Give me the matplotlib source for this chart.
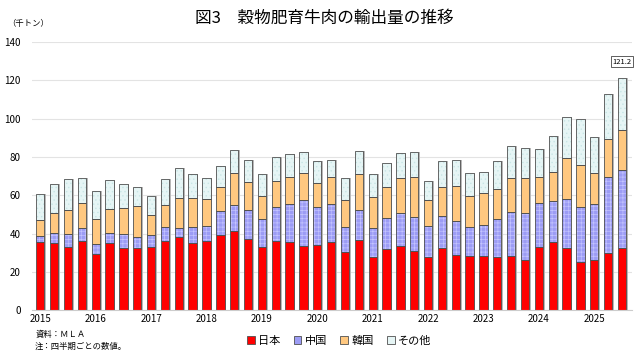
import matplotlib
matplotlib.use("Agg")
import matplotlib.pyplot as plt
import numpy as np

plt.rcParams['font.family'] = ['Noto Sans CJK JP', 'DejaVu Sans']
plt.rcParams['hatch.linewidth'] = 0.5

# 四半期ごとの数値（2015年1-3月期〜2025年7-9月期）
years = ['2015', '2016', '2017', '2018', '2019', '2020',
         '2021', '2022', '2023', '2024', '2025']

# 累積の上端を読み取り
top_japan = [35.5, 34.8, 32.9, 36.1, 29.2, 35.0, 32.4, 32.6, 33.1, 36.1, 38.0,
             35.0, 36.1, 39.0, 41.3, 37.3, 32.9, 36.1, 35.4, 33.6, 34.1, 35.7,
             30.5, 36.6, 27.8, 32.0, 33.6, 31.0, 27.8, 32.6, 28.9, 28.2, 28.5,
             27.5, 28.4, 26.4, 33.1, 35.5, 32.6, 25.2, 26.3, 29.9, 32.2]
top_china = [38.5, 40.1, 39.7, 43.1, 34.5, 40.3, 39.7, 38.2, 39.2, 43.4, 42.7,
             43.2, 44.1, 51.8, 55.0, 52.3, 47.6, 53.9, 55.5, 57.6, 53.9, 55.3,
             43.2, 52.3, 43.1, 48.0, 50.9, 48.7, 43.9, 49.2, 46.6, 43.4, 44.5,
             47.6, 51.5, 50.8, 55.8, 57.2, 57.8, 53.9, 55.5, 69.3, 73.0]
top_korea = [47.1, 50.6, 52.3, 56.0, 47.6, 53.0, 53.4, 54.4, 49.9, 55.0, 58.6,
             58.6, 58.1, 64.4, 71.8, 66.7, 59.7, 67.7, 69.5, 71.8, 66.5, 69.7,
             57.6, 71.2, 59.2, 64.4, 69.1, 69.7, 57.6, 64.4, 64.9, 59.7, 61.3,
             63.5, 69.1, 68.8, 69.7, 72.3, 79.3, 75.6, 71.6, 89.3, 94.0]
total = [60.7, 66.0, 68.3, 69.1, 62.3, 68.1, 66.0, 64.4, 59.7, 68.3, 74.0,
         71.2, 69.1, 75.3, 83.5, 78.6, 70.9, 79.8, 81.6, 82.8, 78.0, 78.2,
         68.8, 83.2, 71.2, 77.0, 82.1, 82.6, 67.7, 78.1, 78.6, 71.8, 72.3,
         77.7, 85.6, 84.7, 84.4, 91.0, 100.8, 99.7, 90.3, 112.8, 121.2]

japan = np.array(top_japan)
china = np.array(top_china) - japan
korea = np.array(top_korea) - np.array(top_china)
other = np.array(total) - np.array(top_korea)

x = np.arange(len(total))
w = 0.6
ec = '#505050'

fig = plt.figure(figsize=(6.4, 3.58), dpi=100)
ax = fig.add_axes([0.05, 0.134, 0.937, 0.748])

# 影
ax.bar(x + 0.12, total, w, color='#b8b8b8', zorder=1, linewidth=0)

ax.bar(x, japan, w, color='#ff0000', edgecolor=ec, linewidth=0.6, zorder=2)

# 中国（ドット模様は薄い色で）
ax.bar(x, china, w, bottom=japan, color='#9c9cf5', edgecolor='#c4c4ff',
       linewidth=0, hatch='++++', zorder=2)
ax.bar(x, china, w, bottom=japan, fill=False, edgecolor=ec, linewidth=0.6, zorder=3)

ax.bar(x, korea, w, bottom=japan + china, color='#ffc880', edgecolor=ec,
       linewidth=0.6, zorder=2)

# その他
ax.bar(x, other, w, bottom=japan + china + korea, color='#e6f5f5',
       edgecolor='#c9e6e6', linewidth=0, hatch='....', zorder=2)
ax.bar(x, other, w, bottom=japan + china + korea, fill=False, edgecolor=ec,
       linewidth=0.6, zorder=3)

ax.set_ylim(0, 140)
ax.set_xlim(-0.6, len(total) - 0.3)
ax.set_yticks(range(0, 141, 20))
ax.set_xticks(np.arange(0, len(total), 4))
ax.set_xticklabels(years)
ax.tick_params(axis='both', length=0, labelsize=7, pad=3)
ax.tick_params(axis='y', pad=8)
ax.grid(axis='y', color='#e3e3e3', linewidth=0.8, zorder=0)
ax.set_axisbelow(True)
for s in ['top', 'right', 'left']:
    ax.spines[s].set_visible(False)
ax.spines['bottom'].set_color('#cccccc')

ax.annotate(f'{total[-1]:.1f}', (x[-1], total[-1]), xytext=(0, 9),
            textcoords='offset points', ha='center', va='bottom', fontsize=5.5,
            bbox=dict(boxstyle='square,pad=0.2', fc='white', ec='#444444', lw=0.6))

# 凡例
handles = [
    plt.Rectangle((0, 0), 1, 1, fc='#ff0000', ec=ec, lw=0.6),
    plt.Rectangle((0, 0), 1, 1, fc='#9c9cf5', ec=ec, lw=0.6),
    plt.Rectangle((0, 0), 1, 1, fc='#ffc880', ec=ec, lw=0.6),
    plt.Rectangle((0, 0), 1, 1, fc='#e6f5f5', ec=ec, lw=0.6),
]
fig.legend(handles, ['日本', '中国', '韓国', 'その他'], loc='center',
           bbox_to_anchor=(0.53, 0.047), ncol=4, frameon=False,
           fontsize=8, handlelength=0.7, handleheight=0.7, handletextpad=0.3,
           columnspacing=1.2)

fig.text(0.507, 0.95, '図3　穀物肥育牛肉の輸出量の推移', ha='center', va='center',
         fontsize=12)
fig.text(0.012, 0.935, '（千トン）', ha='left', va='center', fontsize=6)
fig.text(0.055, 0.066, '資料：ＭＬＡ', ha='left', va='center', fontsize=6)
fig.text(0.055, 0.033, '注：四半期ごとの数値。', ha='left', va='center', fontsize=6)

fig.savefig('out.png', dpi=100)
